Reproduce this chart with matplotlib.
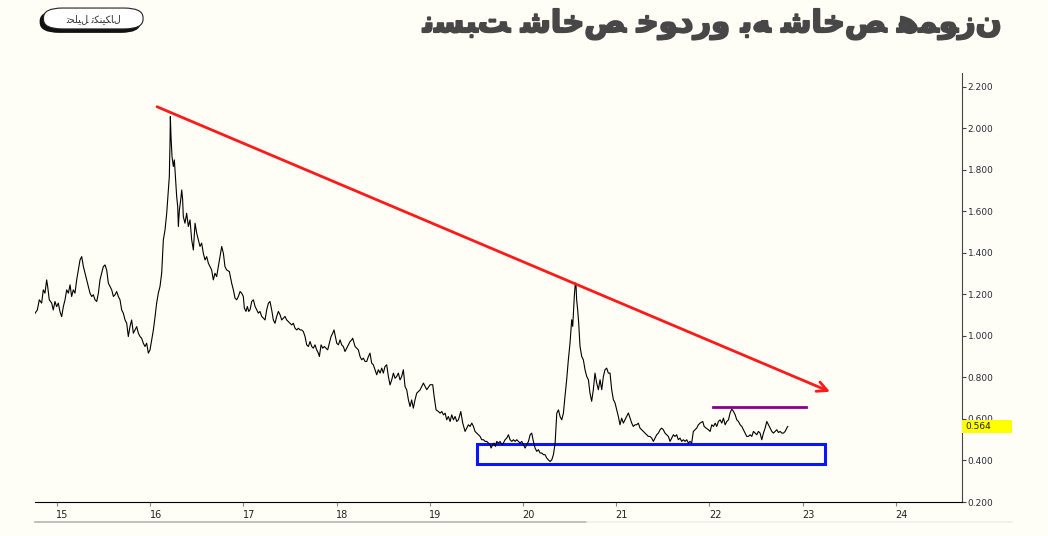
import matplotlib
matplotlib.use("Agg")
import matplotlib.pyplot as plt
import matplotlib.transforms as mtransforms
import matplotlib.patheffects as pe
from matplotlib.patches import Rectangle, FancyBboxPatch
from matplotlib.lines import Line2D

# ratio of auto index to equal-weight index (x = year, y = ratio)
years = [
    14.764, 14.789, 14.810, 14.835, 14.853, 14.871, 14.889, 14.900, 14.917, 14.943,
    14.960, 14.978, 14.996, 15.014, 15.032, 15.050, 15.068, 15.086, 15.104, 15.122,
    15.140, 15.157, 15.175, 15.193, 15.211, 15.229, 15.247, 15.265, 15.283, 15.301,
    15.318, 15.336, 15.354, 15.372, 15.390, 15.408, 15.426, 15.444, 15.461, 15.479,
    15.497, 15.515, 15.533, 15.551, 15.569, 15.587, 15.605, 15.622, 15.640, 15.658,
    15.676, 15.694, 15.712, 15.730, 15.748, 15.765, 15.783, 15.801, 15.819, 15.837,
    15.855, 15.873, 15.891, 15.908, 15.926, 15.944, 15.962, 15.980, 15.998, 16.016,
    16.034, 16.052, 16.069, 16.087, 16.105, 16.123, 16.141, 16.159, 16.177, 16.195,
    16.205, 16.213, 16.216, 16.223, 16.234, 16.248, 16.259, 16.270, 16.284, 16.295,
    16.302, 16.313, 16.327, 16.338, 16.348, 16.355, 16.373, 16.391, 16.409, 16.427,
    16.445, 16.463, 16.481, 16.499, 16.516, 16.534, 16.552, 16.570, 16.588, 16.606,
    16.624, 16.642, 16.659, 16.677, 16.695, 16.713, 16.731, 16.749, 16.767, 16.785,
    16.802, 16.820, 16.849,
    16.874, 16.892, 16.910, 16.928, 16.946, 16.964, 16.981, 16.999, 17.010, 17.028,
    17.042, 17.057, 17.071, 17.089, 17.107, 17.125, 17.142, 17.160, 17.178, 17.196,
    17.214, 17.232, 17.250, 17.268, 17.285, 17.303, 17.321, 17.339, 17.357, 17.375,
    17.393, 17.411, 17.429, 17.446, 17.464, 17.482, 17.500, 17.518, 17.536, 17.554,
    17.572, 17.590, 17.607, 17.625, 17.643, 17.661, 17.679, 17.697, 17.715, 17.733,
    17.750, 17.768, 17.786, 17.804, 17.815, 17.833, 17.851, 17.868, 17.886, 17.904,
    17.922, 17.940, 17.958, 17.972, 17.983, 18.001, 18.019, 18.037, 18.054, 18.072,
    18.090, 18.108, 18.126, 18.144, 18.162, 18.172, 18.187, 18.198, 18.215, 18.233,
    18.251, 18.269, 18.287, 18.305, 18.323, 18.341, 18.358, 18.376, 18.394, 18.412,
    18.430, 18.448, 18.466, 18.484, 18.501, 18.519, 18.537, 18.555, 18.573, 18.591,
    18.609, 18.627, 18.645, 18.662, 18.680, 18.698, 18.716, 18.734, 18.752, 18.770,
    18.788, 18.805, 18.823, 18.841, 18.859, 18.877, 18.895,
    18.931, 18.967, 19.003, 19.031, 19.046, 19.067, 19.092, 19.110, 19.128, 19.146,
    19.164, 19.181, 19.199, 19.217, 19.235, 19.253, 19.271, 19.289, 19.307, 19.332,
    19.353, 19.378, 19.396, 19.414, 19.432, 19.450, 19.468, 19.485, 19.503, 19.521,
    19.539, 19.557, 19.575, 19.593, 19.611, 19.628, 19.646, 19.657, 19.675, 19.689,
    19.704, 19.718, 19.736, 19.754, 19.772, 19.789, 19.807, 19.825, 19.843, 19.861,
    19.879, 19.897, 19.915, 19.932, 19.950, 19.968, 19.986, 20.004, 20.022, 20.040,
    20.058, 20.076, 20.093, 20.111, 20.129, 20.147, 20.165, 20.183, 20.201, 20.219,
    20.236, 20.254, 20.272, 20.290, 20.308, 20.326, 20.344, 20.362, 20.380, 20.397,
    20.415, 20.433,
    20.450, 20.468, 20.486, 20.504, 20.522, 20.533, 20.540, 20.550, 20.561, 20.568,
    20.575, 20.586, 20.597, 20.611, 20.629, 20.647, 20.665, 20.683, 20.701, 20.718,
    20.736, 20.754, 20.772, 20.790, 20.808, 20.826, 20.844, 20.862, 20.879, 20.897,
    20.915, 20.933, 20.951, 20.969, 20.987, 21.005, 21.022, 21.040, 21.058, 21.076,
    21.094, 21.112, 21.130, 21.148, 21.166, 21.183, 21.201, 21.219, 21.237, 21.255,
    21.273, 21.291, 21.309, 21.326, 21.344, 21.362, 21.380, 21.398, 21.416, 21.434,
    21.452, 21.470, 21.487, 21.505, 21.523, 21.541, 21.559, 21.577, 21.595, 21.613,
    21.630, 21.648, 21.666, 21.684, 21.702, 21.720, 21.738, 21.756, 21.774, 21.791,
    21.809, 21.827, 21.845, 21.863, 21.881, 21.899,
    21.928, 21.943, 21.964, 21.989, 22.007, 22.025, 22.043, 22.061, 22.078, 22.096,
    22.114, 22.132, 22.150, 22.168, 22.186, 22.204, 22.221, 22.239, 22.257, 22.275,
    22.293, 22.311, 22.329, 22.347, 22.365, 22.382, 22.400, 22.418, 22.436, 22.454,
    22.472, 22.490, 22.508, 22.525, 22.543, 22.561, 22.579, 22.597, 22.615, 22.633,
    22.651, 22.669, 22.686, 22.704, 22.722, 22.740, 22.758, 22.776, 22.794, 22.812,
    22.829, 22.840,
]
ratio = [
    1.109, 1.125, 1.174, 1.158, 1.222, 1.206, 1.270, 1.238, 1.174, 1.158,
    1.125, 1.166, 1.141, 1.158, 1.117, 1.093, 1.141, 1.174, 1.222, 1.206,
    1.246, 1.190, 1.222, 1.206, 1.270, 1.318, 1.366, 1.382, 1.334, 1.302,
    1.270, 1.238, 1.206, 1.190, 1.198, 1.174, 1.166, 1.206, 1.270, 1.302,
    1.334, 1.342, 1.318, 1.254, 1.238, 1.222, 1.190, 1.198, 1.214, 1.190,
    1.174, 1.125, 1.109, 1.077, 1.061, 0.997, 1.045, 1.077, 1.013, 1.029,
    1.045, 1.013, 0.997, 0.989, 0.965, 0.949, 0.965, 0.917, 0.933, 0.981,
    1.029, 1.093, 1.158, 1.206, 1.238, 1.302, 1.463, 1.511, 1.591, 1.703,
    1.768, 1.944, 2.057, 1.960, 1.864, 1.816, 1.848, 1.768, 1.671, 1.623,
    1.527, 1.607, 1.655, 1.703, 1.655, 1.575, 1.543, 1.591, 1.527, 1.559,
    1.463, 1.414, 1.543, 1.495, 1.463, 1.431, 1.447, 1.398, 1.366, 1.382,
    1.350, 1.334, 1.318, 1.270, 1.302, 1.286, 1.334, 1.382, 1.431, 1.398,
    1.334, 1.318, 1.310,
    1.254, 1.222, 1.182, 1.174, 1.190, 1.214, 1.206, 1.190, 1.134, 1.118,
    1.142, 1.118, 1.126, 1.166, 1.174, 1.142, 1.126, 1.110, 1.118, 1.094,
    1.086, 1.077, 1.126, 1.158, 1.166, 1.126, 1.077, 1.061, 1.094, 1.118,
    1.102, 1.077, 1.086, 1.094, 1.077, 1.069, 1.061, 1.053, 1.061, 1.037,
    1.029, 1.037, 1.029, 1.029, 1.021, 0.997, 0.957, 0.949, 0.973, 0.949,
    0.941, 0.957, 0.933, 0.917, 0.901, 0.957, 0.941, 0.949, 0.941, 0.933,
    0.965, 0.997, 1.013, 1.029, 1.005, 0.965, 0.957, 0.981, 0.957, 0.949,
    0.925, 0.941, 0.957, 0.973, 0.981, 0.989, 0.965, 0.949, 0.941, 0.933,
    0.901, 0.885, 0.893, 0.877, 0.877, 0.901, 0.917, 0.869, 0.861, 0.837,
    0.813, 0.837, 0.821, 0.845, 0.821, 0.853, 0.861, 0.805, 0.764, 0.788,
    0.821, 0.796, 0.805, 0.821, 0.788, 0.805, 0.837, 0.756, 0.740, 0.692,
    0.660, 0.692, 0.652, 0.692, 0.724, 0.732, 0.740,
    0.773, 0.741, 0.765, 0.765, 0.709, 0.644, 0.636, 0.628, 0.636, 0.620,
    0.628, 0.596, 0.612, 0.588, 0.620, 0.596, 0.612, 0.588, 0.596, 0.636,
    0.580, 0.540, 0.556, 0.572, 0.564, 0.580, 0.564, 0.540, 0.532, 0.524,
    0.516, 0.500, 0.500, 0.492, 0.492, 0.484, 0.476, 0.460, 0.476, 0.484,
    0.468, 0.492, 0.484, 0.492, 0.476, 0.484, 0.500, 0.508, 0.524, 0.500,
    0.492, 0.500, 0.492, 0.500, 0.492, 0.484, 0.492, 0.476, 0.460, 0.476,
    0.492, 0.524, 0.532, 0.492, 0.460, 0.444, 0.452, 0.436, 0.436, 0.428,
    0.428, 0.412, 0.403, 0.395, 0.403, 0.428, 0.484, 0.628, 0.644, 0.612,
    0.596, 0.628,
    0.709, 0.789, 0.885, 0.966, 1.078, 1.046, 1.110, 1.191, 1.255, 1.247,
    1.174, 1.126, 1.062, 0.950, 0.902, 0.885, 0.837, 0.805, 0.789, 0.725,
    0.685, 0.741, 0.821, 0.773, 0.741, 0.789, 0.741, 0.805, 0.837, 0.845,
    0.821, 0.821, 0.741, 0.693, 0.677, 0.645, 0.613, 0.572, 0.604, 0.580,
    0.596, 0.613, 0.629, 0.604, 0.580, 0.564, 0.572, 0.572, 0.580, 0.556,
    0.548, 0.540, 0.532, 0.524, 0.516, 0.516, 0.508, 0.492, 0.508, 0.524,
    0.532, 0.548, 0.556, 0.548, 0.532, 0.524, 0.516, 0.492, 0.508, 0.524,
    0.516, 0.524, 0.500, 0.508, 0.492, 0.500, 0.492, 0.500, 0.484, 0.492,
    0.484, 0.540, 0.548, 0.556, 0.572, 0.580,
    0.588, 0.564, 0.556, 0.548, 0.540, 0.572, 0.564, 0.580, 0.564, 0.588,
    0.596, 0.580, 0.604, 0.572, 0.588, 0.596, 0.629, 0.648, 0.637, 0.621,
    0.596, 0.588, 0.572, 0.564, 0.548, 0.532, 0.516, 0.516, 0.524, 0.516,
    0.540, 0.532, 0.524, 0.540, 0.532, 0.500, 0.532, 0.556, 0.588, 0.572,
    0.556, 0.540, 0.532, 0.540, 0.548, 0.535, 0.540, 0.532, 0.532, 0.540,
    0.556, 0.564,
]
last_value = 0.564

# drawings on the chart
trend_start = (16.073, 2.104)
trend_end = (23.294, 0.731)
resist_x = [22.039, 23.036]
resist_y = 0.659
support_x = [19.506, 23.240]
support_y = [0.384, 0.480]

x_ticks = list(range(15, 25))
y_ticks = [0.2, 0.4, 0.6, 0.8, 1.0, 1.2, 1.4, 1.6, 1.8, 2.0, 2.2]

title = "نسبت شاخص خودرو به شاخص هموزن"
button_text = "تحلیل تکنیکال"

# presentation forms: isolated, final, initial, medial
FORMS = {
    "ا": ("\uFE8D", "\uFE8E", None, None),
    "ب": ("\uFE8F", "\uFE90", "\uFE91", "\uFE92"),
    "ت": ("\uFE95", "\uFE96", "\uFE97", "\uFE98"),
    "ح": ("\uFEA1", "\uFEA2", "\uFEA3", "\uFEA4"),
    "خ": ("\uFEA5", "\uFEA6", "\uFEA7", "\uFEA8"),
    "د": ("\uFEA9", "\uFEAA", None, None),
    "ر": ("\uFEAD", "\uFEAE", None, None),
    "ز": ("\uFEAF", "\uFEB0", None, None),
    "س": ("\uFEB1", "\uFEB2", "\uFEB3", "\uFEB4"),
    "ش": ("\uFEB5", "\uFEB6", "\uFEB7", "\uFEB8"),
    "ص": ("\uFEB9", "\uFEBA", "\uFEBB", "\uFEBC"),
    "ل": ("\uFEDD", "\uFEDE", "\uFEDF", "\uFEE0"),
    "م": ("\uFEE1", "\uFEE2", "\uFEE3", "\uFEE4"),
    "ن": ("\uFEE5", "\uFEE6", "\uFEE7", "\uFEE8"),
    "ه": ("\uFEE9", "\uFEEA", "\uFEEB", "\uFEEC"),
    "و": ("\uFEED", "\uFEEE", None, None),
    "ی": ("\uFBFC", "\uFBFD", "\uFBFE", "\uFBFF"),
    "ک": ("\uFB8E", "\uFB8F", "\uFB90", "\uFB91"),
}


def shape_fa(text):
    """pick joined letter forms by hand (the renderer orders them rtl)"""
    out = []
    for i, ch in enumerate(text):
        if ch not in FORMS:
            out.append(ch)
            continue
        prev = text[i - 1] if i > 0 else ""
        nxt = text[i + 1] if i + 1 < len(text) else ""
        join_prev = prev in FORMS and FORMS[prev][2] is not None
        join_next = FORMS[ch][2] is not None and nxt in FORMS
        iso, fin, ini, med = FORMS[ch]
        if join_prev and join_next:
            out.append(med)
        elif join_prev:
            out.append(fin)
        elif join_next:
            out.append(ini)
        else:
            out.append(iso)
    return "".join(out)


bg = "#fffef6"
fig = plt.figure(figsize=(10.48, 5.36), dpi=100, facecolor=bg)
ax = fig.add_axes([0.0334, 0.0634, 0.8846, 0.8006])
ax.set_facecolor(bg)

ax.plot(years, ratio, color="black", lw=0.8)

ax.annotate("", xy=trend_end, xytext=trend_start,
            arrowprops=dict(arrowstyle="->", color="#ff1a1a", lw=2,
                            mutation_scale=18, shrinkA=0, shrinkB=0))
ax.plot(resist_x, [resist_y, resist_y], color="#8b008b", lw=2)
ax.add_patch(Rectangle((support_x[0], support_y[0]), support_x[1] - support_x[0],
                       support_y[1] - support_y[0], fill=False,
                       edgecolor="#0a14ff", lw=2.2))

ax.set_xlim(14.764, 24.71)
ax.set_ylim(0.2, 2.267)
for side in ["left", "top"]:
    ax.spines[side].set_visible(False)
ax.spines["bottom"].set_color("black")
ax.spines["right"].set_color("#444444")

ax.yaxis.tick_right()
ax.set_yticks(y_ticks)
ax.set_yticklabels([f"{v:.3f}" for v in y_ticks])
ax.tick_params(axis="y", direction="out", length=3, pad=1, labelsize=6.5,
               labelcolor="#2b2b3a", color="#444444")
ax.set_xticks(x_ticks)
ax.set_xticklabels([str(v) for v in x_ticks])
ax.tick_params(axis="x", direction="out", length=3, pad=3, labelsize=7,
               labelcolor="#222222", color="#888888")
shift = mtransforms.ScaledTranslation(4 / 72, 0, fig.dpi_scale_trans)
for lbl in ax.get_xticklabels():
    lbl.set_transform(lbl.get_transform() + shift)

# last value marker on the price scale (sits over the 0.600 label like the original)
blend = mtransforms.blended_transform_factory(ax.transAxes, ax.transData)
ax.add_patch(Rectangle((1.0, last_value - 0.032), 0.054, 0.064, transform=blend,
                       facecolor="#ffff00", edgecolor="none", clip_on=False,
                       zorder=6))
ax.text(1.004, last_value, f"{last_value:.3f}", transform=blend, fontsize=6.5,
        va="center", ha="left", color="#222222", zorder=7)

# bottom scroll strip
fig.add_artist(Line2D([0.0334, 0.56], [0.026, 0.026], color="#b4b4b4", lw=1.2))
fig.add_artist(Line2D([0.56, 0.966], [0.026, 0.026], color="#eeeeee", lw=1.2))

fig.text(0.956, 0.955, shape_fa(title), ha="right", va="center", fontsize=22,
         fontweight="bold", color="#474747", family=["DejaVu Sans"],
         path_effects=[pe.withStroke(linewidth=1.4, foreground="#474747")])

# button with a dark shadow on the lower left
fig.add_artist(FancyBboxPatch((0.0385, 0.940), 0.095, 0.039, transform=fig.transFigure,
                              boxstyle="round,pad=0,rounding_size=0.018",
                              facecolor="#111111", edgecolor="#111111", lw=1))
fig.add_artist(FancyBboxPatch((0.0415, 0.946), 0.095, 0.039, transform=fig.transFigure,
                              boxstyle="round,pad=0,rounding_size=0.018",
                              facecolor="white", edgecolor="#222222", lw=0.8))
fig.text(0.089, 0.965, shape_fa(button_text), ha="center", va="center",
         fontsize=7, color="#333333", family=["DejaVu Sans"])

fig.savefig("out.png", dpi=100, facecolor=bg)
